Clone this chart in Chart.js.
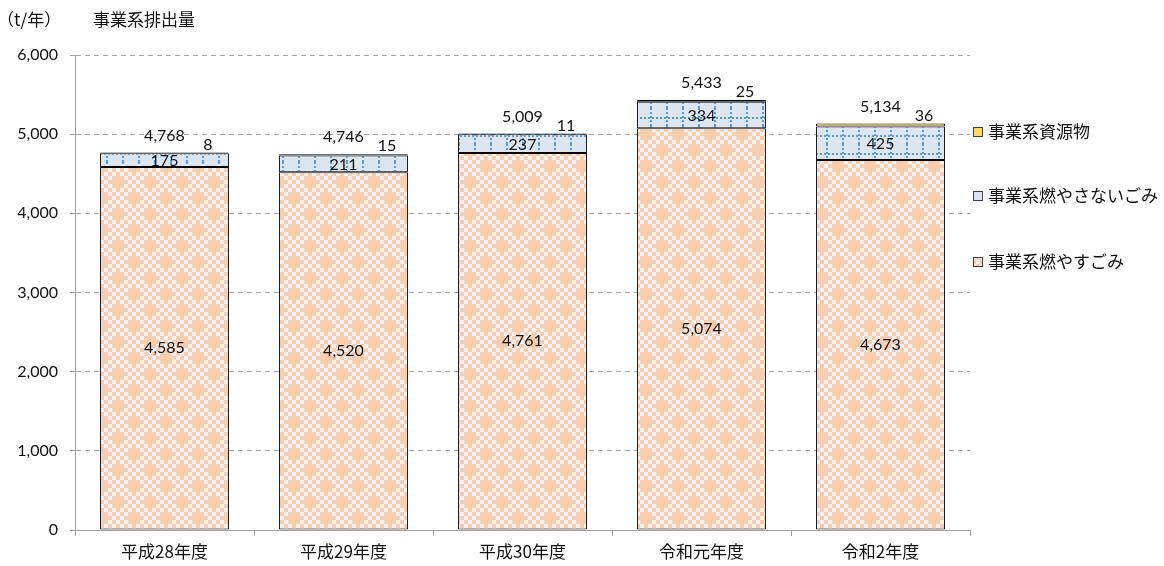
<!DOCTYPE html>
<html>
<head>
<meta charset="utf-8">
<script src="https://cdn.jsdelivr.net/npm/chart.js@4.4.1/dist/chart.umd.min.js"></script>
<style>
  html, body { margin: 0; padding: 0; background: #ffffff; }
  #wrap { width: 1164px; height: 566px; position: relative; }
</style>
</head>
<body>
<div id="wrap"><canvas id="c" width="1164" height="566"></canvas></div>
<script>
// Business-sector waste output per fiscal year (t/年)
const categories   = ['平成28年度', '平成29年度', '平成30年度', '令和元年度', '令和2年度'];
const burnable     = [4585, 4520, 4761, 5074, 4673];   // 事業系燃やすごみ
const nonBurnable  = [175, 211, 237, 334, 425];        // 事業系燃やさないごみ
const recyclables  = [8, 15, 11, 25, 36];              // 事業系資源物
const totals       = [4768, 4746, 5009, 5433, 5134];   // 合計
const seriesNames  = ['事業系燃やすごみ', '事業系燃やさないごみ', '事業系資源物'];
const yTickValues  = [0, 1000, 2000, 3000, 4000, 5000, 6000];
const unitLabel    = '（t/年）';
const chartTitle   = '事業系排出量';

const NUM_FONT = '16px Lato, "Noto Sans CJK JP", sans-serif';
const JP_FONT = '"Noto Sans CJK JP", sans-serif';
const fmt = v => v.toLocaleString('en-US');

// Orange checker fill with sparse crosses
function makeOrangePattern() {
  const c = 4, n = 8, s = c * n;
  const cv = document.createElement('canvas');
  cv.width = s; cv.height = s;
  const g = cv.getContext('2d');
  g.fillStyle = '#f3f2f1';
  g.fillRect(0, 0, s, s);
  g.fillStyle = '#f9cdb0';
  for (let i = 0; i < n; i++) {
    for (let j = 0; j < n; j++) {
      if ((i + j) % 2 === 0) g.fillRect(i * c, j * c, c, c);
    }
  }
  const cross = (ci, cj) => {
    g.fillRect(ci * c - c, cj * c, c * 3, c);
    g.fillRect(ci * c, cj * c - c, c, c * 3);
  };
  cross(1, 1); cross(5, 5);
  return g.createPattern(cv, 'repeat');
}

// Light blue fill with dotted grid lines
function makeBluePattern() {
  const w = 16, h = 18;
  const cv = document.createElement('canvas');
  cv.width = w; cv.height = h;
  const g = cv.getContext('2d');
  g.fillStyle = '#dce6f2';
  g.fillRect(0, 0, w, h);
  g.fillStyle = '#5b9bd5';
  for (let y = 0; y < h; y += 4) g.fillRect(10, y, 2, 2);
  for (let x = 0; x < w; x += 4) g.fillRect(x, 9, 2, 2);
  return g.createPattern(cv, 'repeat');
}

const orangeFill = makeOrangePattern();
const blueFill = makeBluePattern();
const goldFill = '#ffd966';

// Value labels inside / above the stacked bars
const valueLabels = {
  id: 'valueLabels',
  afterDatasetsDraw(chart) {
    const ctx = chart.ctx;
    const y = chart.scales.y;
    const m0 = chart.getDatasetMeta(0);
    const m1 = chart.getDatasetMeta(1);
    const m2 = chart.getDatasetMeta(2);
    ctx.save();
    ctx.font = NUM_FONT;
    ctx.fillStyle = '#111111';
    ctx.textAlign = 'center';
    ctx.textBaseline = 'middle';
    categories.forEach((_, i) => {
      const b0 = m0.data[i], b1 = m1.data[i], b2 = m2.data[i];
      ctx.fillText(fmt(burnable[i]), b0.x, (b0.y + b0.base) / 2);
      ctx.fillText(fmt(nonBurnable[i]), b1.x, (b1.y + b1.base) / 2 + 1);
      ctx.fillText(fmt(recyclables[i]), b2.x + b2.width / 2 - 21, b2.y - 8);
      ctx.fillText(fmt(totals[i]), b2.x, y.getPixelForValue(totals[i]) - 17);
    });
    ctx.restore();
  }
};

// Unit, title and the right-hand legend
const decorations = {
  id: 'decorations',
  afterDraw(chart) {
    const ctx = chart.ctx;
    ctx.save();
    ctx.fillStyle = '#111111';
    ctx.textBaseline = 'middle';
    ctx.textAlign = 'left';
    ctx.font = '17px ' + JP_FONT;
    ctx.fillText(unitLabel, -3, 20);
    ctx.fillText(chartTitle, 93, 20);

    const items = [
      { name: seriesNames[2], fill: goldFill, y: 132 },
      { name: seriesNames[1], fill: blueFill, y: 196 },
      { name: seriesNames[0], fill: orangeFill, y: 262 }
    ];
    items.forEach(it => {
      ctx.fillStyle = it.fill;
      ctx.fillRect(973, it.y - 5, 10, 10);
      ctx.strokeStyle = '#404040';
      ctx.lineWidth = 1;
      ctx.strokeRect(973.5, it.y - 4.5, 9, 9);
      ctx.fillStyle = '#111111';
      ctx.font = '17px ' + JP_FONT;
      ctx.fillText(it.name, 988, it.y);
    });
    ctx.restore();
  }
};

const barCommon = {
  borderColor: '#000000',
  borderWidth: 1,
  borderSkipped: false,
  barPercentage: 0.72,
  categoryPercentage: 1.0
};

new Chart(document.getElementById('c'), {
  type: 'bar',
  data: {
    labels: categories,
    datasets: [
      Object.assign({ label: seriesNames[0], data: burnable, backgroundColor: orangeFill }, barCommon),
      Object.assign({ label: seriesNames[1], data: nonBurnable, backgroundColor: blueFill }, barCommon),
      Object.assign({ label: seriesNames[2], data: recyclables, backgroundColor: goldFill }, barCommon)
    ]
  },
  options: {
    responsive: false,
    devicePixelRatio: 1,
    animation: false,
    layout: { padding: { left: 0, right: 194, top: 55, bottom: 0 } },
    plugins: {
      legend: { display: false },
      tooltip: { enabled: false },
      title: { display: false }
    },
    scales: {
      x: {
        stacked: true,
        grid: {
          display: true,
          drawOnChartArea: false,
          drawTicks: true,
          tickLength: 6,
          color: '#a0a0a0',
          offset: true
        },
        border: { display: true, color: '#a0a0a0', width: 1 },
        ticks: {
          color: '#111111',
          font: { family: JP_FONT, size: 17 },
          padding: 5,
          maxRotation: 0
        },
        afterFit(scale) { scale.height = 36; }
      },
      y: {
        stacked: true,
        min: 0,
        max: 6000,
        afterBuildTicks(scale) { scale.ticks = yTickValues.map(v => ({ value: v })); },
        grid: {
          color: '#a6a6a6',
          lineWidth: 1,
          drawTicks: true,
          tickLength: 5,
          tickColor: '#a0a0a0',
          tickBorderDash: []
        },
        border: { display: true, color: '#a0a0a0', width: 1, dash: [5, 4] },
        ticks: {
          color: '#111111',
          font: { family: 'Lato, "Noto Sans CJK JP", sans-serif', size: 16 },
          padding: 12,
          callback: v => fmt(v)
        },
        afterFit(scale) { scale.width = 75; }
      }
    }
  },
  plugins: [valueLabels, decorations]
});
</script>
</body>
</html>
